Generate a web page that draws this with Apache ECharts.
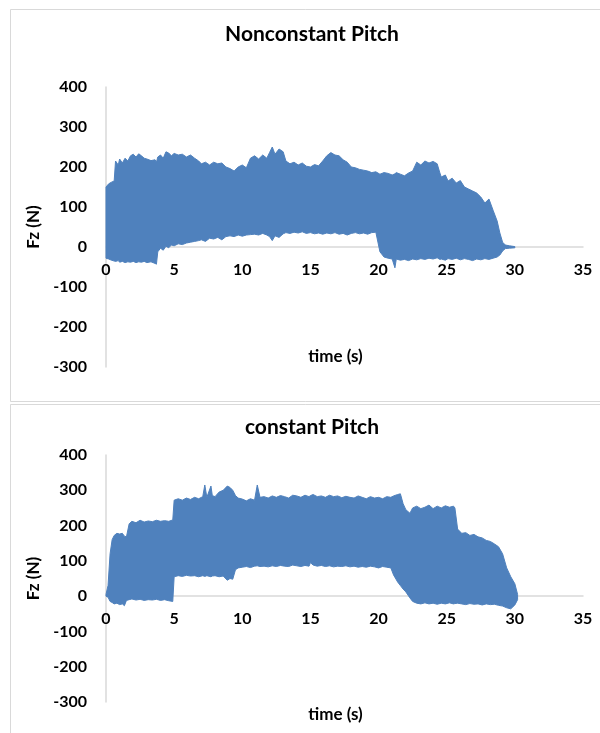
<!DOCTYPE html>
<html>
<head>
<meta charset="utf-8">
<title>Fz vs time</title>
<script src="https://cdn.jsdelivr.net/npm/echarts@6/dist/echarts.min.js"></script>
<style>
  html, body { margin: 0; padding: 0; background: #fff; }
  #fz { width: 600px; height: 733px; }
</style>
</head>
<body>
<div id="fz"></div>
<script>
// envelope of the Fz signal (time in s, force in N)
var titles = ['Nonconstant Pitch', 'constant Pitch'];

var timeA = [
  0, 0.2, 0.4, 0.6, 0.7, 0.9, 1.0, 1.2, 1.4, 1.6,
  1.8, 2.0, 2.2, 2.4, 2.6, 2.8, 3.0, 3.3, 3.6, 3.7,
  3.8, 4.0, 4.2, 4.4, 4.6, 4.8, 5.0, 5.3, 5.6, 5.9,
  6.2, 6.5, 6.8, 7.0, 7.3, 7.6, 7.9, 8.2, 8.5, 8.8,
  9.1, 9.4, 9.7, 10.0, 10.3, 10.6, 10.9, 11.2, 11.5, 11.8,
  12.0, 12.2, 12.4, 12.7, 13.0, 13.2, 13.5, 13.8, 14.1, 14.4,
  14.7, 15.0, 15.3, 15.6, 15.9, 16.2, 16.5, 16.8, 17.1, 17.4,
  17.7, 18.0, 18.3, 18.6, 18.9, 19.2, 19.5, 19.8, 20.1, 20.4,
  20.7, 21.0, 21.2, 21.3, 21.6, 21.9, 22.2, 22.5, 22.8, 23.1,
  23.4, 23.7, 24.0, 24.3, 24.5, 24.6, 24.9, 25.1, 25.4, 25.7,
  26.0, 26.3, 26.6, 26.9, 27.2, 27.5, 27.8, 28.1, 28.4, 28.7,
  28.9, 29.1, 29.3, 29.6, 30];
var upperA = [
  150, 158, 162, 165, 215, 205, 220, 210, 222, 215,
  228, 232, 225, 233, 228, 222, 220, 216, 218, 212,
  225, 230, 222, 238, 235, 228, 234, 230, 232, 225,
  230, 222, 215, 208, 212, 205, 212, 208, 210, 200,
  196, 190, 200, 205, 198, 222, 228, 220, 230, 222,
  236, 250, 232, 245, 238, 215, 208, 212, 205, 210,
  202, 200, 206, 203, 215, 228, 236, 230, 228, 218,
  212, 200, 198, 194, 192, 190, 186, 188, 182, 186,
  184, 180, 183, 186, 182, 178, 185, 190, 212, 205,
  215, 210, 214, 208, 185, 175, 180, 165, 172, 160,
  166, 150, 145, 140, 135, 125, 110, 120, 92, 65,
  35, 12, 5, 3, 1];
var lowerA = [
  -28, -30, -33, -35, -36, -34, -38, -36, -39, -37,
  -38, -36, -39, -37, -38, -36, -39, -37, -41, -43,
  -12, -3, -8, 2, -2, 5, 3, 8, 6, 10,
  12, 14, 16, 18, 14, 22, 20, 24, 18, 26,
  28, 26, 30, 27, 30, 31, 32, 30, 34, 30,
  26, 16, 28, 24, 33, 36, 34, 37, 35, 38,
  34, 36, 33, 35, 32, 35, 33, 36, 32, 34,
  30, 34, 36, 33, 35, 32, 36, 37, -12, -25,
  -28, -30, -52, -30, -33, -31, -34, -30, -32, -29,
  -31, -28, -30, -27, -31, -30, -33, -29, -31, -28,
  -32, -29, -31, -34, -30, -32, -29, -31, -28, -25,
  -20, -10, -4, -3, -2];

var timeB = [
  0, 0.15, 0.3, 0.45, 0.6, 0.8, 1.0, 1.2, 1.35, 1.5,
  1.7, 1.9, 2.2, 2.5, 2.8, 3.1, 3.4, 3.7, 4.0, 4.3,
  4.6, 4.9, 5.0, 5.3, 5.6, 5.9, 6.2, 6.5, 6.8, 7.1,
  7.25, 7.4, 7.7, 7.8, 8.0, 8.3, 8.6, 8.9, 9.1, 9.3,
  9.5, 9.7, 10.0, 10.3, 10.6, 10.9, 11.1, 11.3, 11.6, 11.9,
  12.2, 12.5, 12.8, 13.1, 13.4, 13.7, 14.0, 14.3, 14.6, 14.9,
  15.0, 15.2, 15.5, 15.8, 16.1, 16.4, 16.7, 17.0, 17.3, 17.6,
  17.9, 18.2, 18.5, 18.8, 19.1, 19.4, 19.7, 20.0, 20.3, 20.6,
  20.9, 21.1, 21.4, 21.6, 21.8, 22.0, 22.3, 22.5, 22.8, 23.1,
  23.4, 23.7, 24.0, 24.3, 24.6, 24.9, 25.2, 25.5, 25.6, 25.8,
  26.1, 26.4, 26.7, 27.0, 27.3, 27.6, 27.9, 28.2, 28.5, 28.8,
  29.1, 29.4, 29.7, 30.0, 30.2];
var upperB = [
  5, 30, 120, 160, 172, 178, 176, 178, 170, 168,
  205, 212, 208, 215, 210, 213, 211, 215, 212, 214,
  212, 216, 272, 276, 272, 278, 274, 280, 276, 282,
  315, 280, 312, 285, 282, 295, 300, 312, 308, 300,
  285, 278, 275, 270, 276, 272, 315, 280, 282, 278,
  284, 280, 285, 282, 278, 286, 284, 280, 286, 282,
  285, 288, 282, 284, 280, 286, 282, 284, 279, 283,
  280, 278, 284, 280, 276, 282, 278, 280, 276, 282,
  280, 284, 288, 290, 262, 245, 235, 250, 255, 248,
  252, 258, 248, 255, 250, 256, 252, 255, 250, 190,
  178, 180, 172, 175, 168, 165, 158, 155, 148, 140,
  120, 80, 55, 35, 5];
var lowerB = [
  0, -3, -15, -18, -22, -20, -24, -22, -27, -12,
  -10, -8, -11, -9, -12, -10, -11, -9, -12, -10,
  -13, -15, 55, 58, 56, 59, 57, 58, 55, 58,
  56, 58, 55, 57, 58, 55, 57, 45, 50, 48,
  75, 80, 82, 84, 81, 85, 86, 84, 85, 83,
  86, 84, 87, 85, 84, 88, 86, 84, 87, 85,
  95, 88, 85, 87, 84, 86, 83, 85, 84, 86,
  83, 85, 82, 84, 82, 85, 83, 80, 84, 82,
  80, 60, 40, 30, 20, 12, -5, -15, -20, -22,
  -19, -22, -20, -23, -20, -22, -19, -22, -21, -20,
  -22, -24, -21, -23, -22, -25, -22, -24, -23, -26,
  -28, -33, -36, -25, -10];

var fill = '#4F81BD';
var axisGrey = '#D9D9D9';
var font = 'Lato, "Open Sans", sans-serif';

function rows(t, lo, up) {
  return t.map(function (x, i) { return [x, lo[i], up[i]]; });
}

// one filled polygon between the upper and lower envelope
function envelope(t, lo, up) {
  return function (params, api) {
    if (params.dataIndex !== t.length - 1) return null;
    var pts = [];
    for (var i = 0; i < t.length; i++) pts.push(api.coord([t[i], up[i]]));
    for (var j = t.length - 1; j >= 0; j--) pts.push(api.coord([t[j], lo[j]]));
    return {
      type: 'polygon',
      shape: { points: pts },
      style: { fill: fill, stroke: fill, lineWidth: 1 }
    };
  };
}

var myChart = echarts.init(document.getElementById('fz'));

var grids = [
  { left: 106, right: 17, top: 87, bottom: 366, outerBoundsMode: 'none' },
  { left: 106, right: 17, top: 455, bottom: 31, outerBoundsMode: 'none' }
];
var axisShift = [-120, -106];   // x axis sits on y = 0
var nameGaps = [101, 110];
var titleTops = [19, 412];

var option = {
  animation: false,
  backgroundColor: '#fff',
  graphic: [
    { type: 'rect', shape: { x: 10.5, y: 9.5, width: 600, height: 392 }, style: { fill: 'none', stroke: axisGrey, lineWidth: 1 } },
    { type: 'rect', shape: { x: 10.5, y: 404.5, width: 600, height: 340 }, style: { fill: 'none', stroke: axisGrey, lineWidth: 1 } }
  ],
  title: titles.map(function (s, i) {
    return {
      text: s, left: 307, top: titleTops[i], textAlign: 'center',
      textStyle: { fontFamily: font, fontWeight: 'bold', fontSize: 21, color: '#000' }
    };
  }),
  grid: grids,
  xAxis: grids.map(function (g, i) {
    return {
      type: 'value', gridIndex: i, min: 0, max: 35, interval: 5,
      offset: axisShift[i],
      name: 'time (s)', nameLocation: 'middle', nameGap: nameGaps[i],
      nameTextStyle: { fontFamily: font, fontWeight: 'bold', fontSize: 17, color: '#000', padding: [0, 18, 0, 0] },
      axisLine: { onZero: false, lineStyle: { color: axisGrey, width: 1.5 } },
      axisTick: { show: false },
      splitLine: { show: false },
      axisLabel: { margin: 15, fontFamily: font, fontWeight: 'bold', fontSize: 16, color: '#000' }
    };
  }),
  yAxis: grids.map(function (g, i) {
    return {
      type: 'value', gridIndex: i, min: -300, max: 400, interval: 100,
      name: 'Fz (N)', nameLocation: 'middle', nameRotate: 90, nameGap: 62,
      nameTextStyle: { fontFamily: font, fontWeight: 'bold', fontSize: 17, color: '#000' },
      axisLine: { show: true, lineStyle: { color: axisGrey, width: 1.5 } },
      axisTick: { show: false },
      splitLine: { show: false },
      axisLabel: { margin: 19, fontFamily: font, fontWeight: 'bold', fontSize: 16, color: '#000' }
    };
  }),
  series: [
    {
      name: 'Fz nonconstant', type: 'custom', xAxisIndex: 0, yAxisIndex: 0,
      encode: { x: 0, y: [1, 2] },
      renderItem: envelope(timeA, lowerA, upperA),
      data: rows(timeA, lowerA, upperA)
    },
    {
      name: 'Fz constant', type: 'custom', xAxisIndex: 1, yAxisIndex: 1,
      encode: { x: 0, y: [1, 2] },
      renderItem: envelope(timeB, lowerB, upperB),
      data: rows(timeB, lowerB, upperB)
    }
  ]
};

myChart.setOption(option);

window.addEventListener('resize', function () {
  myChart.resize();
});
</script>
</body>
</html>
